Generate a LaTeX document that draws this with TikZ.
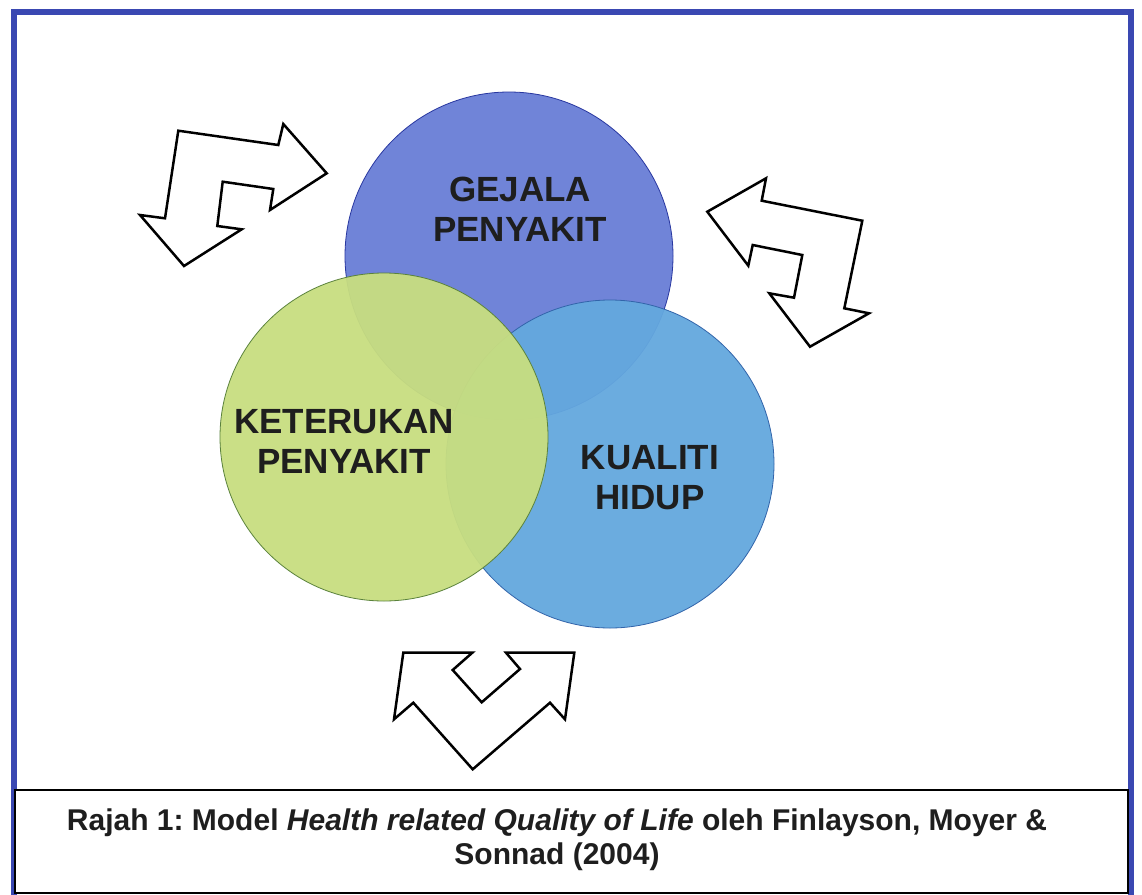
\documentclass[tikz,border=0pt]{standalone}
\usepackage{fontspec}
\setmainfont{Liberation Sans}
\frenchspacing
\definecolor{frameblue}{RGB}{58,72,178}
\definecolor{gblue}{RGB}{112,132,216}
\definecolor{gblueline}{RGB}{40,55,160}
\definecolor{glblue}{RGB}{100,168,222}
\definecolor{glblueline}{RGB}{50,100,170}
\definecolor{ggreen}{RGB}{200,222,128}
\definecolor{ggreenline}{RGB}{90,130,60}
\definecolor{txt}{RGB}{30,30,30}
\begin{document}
\begin{tikzpicture}[x=1pt,y=-1pt,
  circ/.style={circle, minimum size=328pt, inner sep=0pt, line width=0.8pt},
  lbl/.style={font=\fontsize{35}{40}\selectfont\bfseries, text=txt, align=center, inner sep=0pt},
  bigarrow/.style={draw=black, line width=2.5pt, fill=white, line join=miter},
  captext/.style={font=\fontsize{30}{34}\selectfont\bfseries, text=txt, align=center, inner sep=0pt}]
\useasboundingbox (0,0) rectangle (1142,894);
\fill[white] (0,0) rectangle (1142,894);
% frame
\draw[frameblue, line width=6pt] (14,12) rectangle (1131,905);
% circles
\node[circ, draw=gblueline, fill=gblue] (gejala) at (509,256) {};
\node[circ, draw=glblueline, fill=glblue, fill opacity=0.95] (kualiti) at (610,464) {};
\node[circ, draw=ggreenline, fill=ggreen, fill opacity=0.95] (keterukan) at (384,437) {};
% labels
\node[lbl] (tg) at (520,209.5) {GEJALA\\PENYAKIT};
\node[lbl] (tk) at (344,441) {KETERUKAN\\PENYAKIT};
\node[lbl] (tq) at (650,477.5) {KUALITI\\HIDUP};
% arrows
\draw[bigarrow] (178.3,130.7) -- (278.3,145) -- (283.3,124) -- (326.7,173.3) -- (270,210) -- (273.3,189) -- (222.7,181.7) -- (217.3,226) -- (241.7,229.3) -- (184,266) -- (140,215) -- (165,218.3) -- cycle;
\draw[bigarrow] (766,178.3) -- (761.7,200.7) -- (862.3,220.7) -- (844.3,308.3) -- (869,313.3) -- (810,346.7) -- (769.3,293.3) -- (794,297.7) -- (802.3,255) -- (752.7,245) -- (748.3,265.7) -- (707.3,211.7) -- cycle;
\draw[bigarrow] (403.3,652.7) -- (472.3,652.7) -- (452.7,670) -- (481.7,702.3) -- (520,669) -- (506,652.7) -- (574.3,652.7) -- (565,719.3) -- (550,702.7) -- (472.7,769.3) -- (413.3,702.7) -- (394,719.3) -- cycle;
% caption
\draw[black, line width=1.5pt, fill=white] (15,790) rectangle (1128,893);
\node[captext] (cap) at (557,840) {Rajah 1: Model \textit{Health related Quality of Life} oleh Finlayson, Moyer \&\\Sonnad (2004)};
\end{tikzpicture}
\end{document}
